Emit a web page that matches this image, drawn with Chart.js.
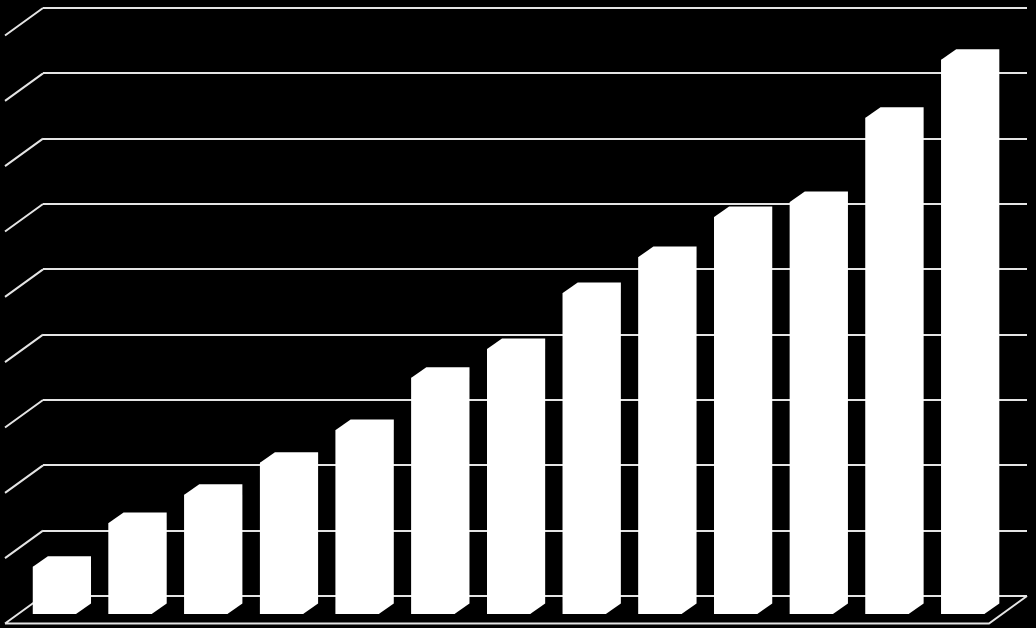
<!DOCTYPE html>
<html>
<head>
<meta charset="utf-8">
<script src="https://cdn.jsdelivr.net/npm/chart.js@4.4.1/dist/chart.umd.min.js"></script>
<style>
  html, body { margin: 0; padding: 0; background: #000; }
  #wrap { width: 1036px; height: 628px; }
</style>
</head>
<body>
<div id="wrap"><canvas id="chart"></canvas></div>
<script>
// Chart data
var categories = ['1', '2', '3', '4', '5', '6', '7', '8', '9', '10', '11', '12', '13'];
var values = [7.4, 14.1, 18.4, 23.3, 28.3, 36.3, 40.7, 49.3, 54.8, 60.9, 63.2, 76.1, 85.0];
var gridTicks = [0, 10, 20, 30, 40, 50, 60, 70, 80, 90];

// Oblique 3D look
var WALL = { dx: -38, dy: 27.5 };   // back wall -> front edge of floor
var FRONT = { dx: -26.4, dy: 19 };  // back wall -> front face of the bars
var BOX = { dx: 15, dy: -10.5 };    // bar depth

var lineColor = '#e4e4e4';

// Floor and side-wall lines
function drawFloor(chart){
  var ctx = chart.ctx;
  var area = chart.chartArea;
  var y = chart.scales.y;
  ctx.save();
  ctx.strokeStyle = lineColor;
  ctx.lineWidth = 2;
  ctx.beginPath();
  gridTicks.forEach(function(t){
    var py = y.getPixelForValue(t);
    ctx.moveTo(area.left, py);
    ctx.lineTo(area.left + WALL.dx, py + WALL.dy);
  });
  var base = y.getPixelForValue(0);
  ctx.moveTo(area.left + WALL.dx, base + WALL.dy);
  ctx.lineTo(area.right + WALL.dx, base + WALL.dy);
  ctx.lineTo(area.right, base);
  ctx.stroke();
  ctx.restore();
}

var box3d = {
  id: 'box3d',
  beforeDatasetsDraw: function(chart){
    drawFloor(chart);
  },
  beforeDatasetDraw: function(chart){
    chart.ctx.save();
    chart.ctx.translate(FRONT.dx, FRONT.dy);
  },
  // whole silhouette of each box, front face included, so no seams show
  afterDatasetDraw: function(chart, args){
    var ctx = chart.ctx;
    ctx.fillStyle = '#ffffff';
    args.meta.data.forEach(function(bar){
      var left = bar.x - bar.width / 2;
      var right = bar.x + bar.width / 2;
      ctx.beginPath();
      ctx.moveTo(left, bar.base);
      ctx.lineTo(left, bar.y);
      ctx.lineTo(left + BOX.dx, bar.y + BOX.dy);
      ctx.lineTo(right + BOX.dx, bar.y + BOX.dy);
      ctx.lineTo(right + BOX.dx, bar.base + BOX.dy);
      ctx.lineTo(right, bar.base);
      ctx.closePath();
      ctx.fill();
    });
    ctx.restore();
  }
};

var chart = new Chart(document.getElementById('chart'), {
  type: 'bar',
  data: {
    labels: categories,
    datasets: [{
      data: values,
      backgroundColor: '#ffffff',
      borderWidth: 0,
      barPercentage: 0.57,
      categoryPercentage: 1,
      clip: false
    }]
  },
  options: {
    responsive: true,
    maintainAspectRatio: false,
    animation: false,
    layout: { padding: { left: 43, right: 9, top: 8, bottom: 32 } },
    plugins: {
      legend: { display: false },
      tooltip: { enabled: false }
    },
    scales: {
      x: { display: false },
      y: {
        min: 0,
        max: 90,
        afterBuildTicks: function(scale){
          scale.ticks = gridTicks.map(function(v){ return { value: v }; });
        },
        ticks: { display: false },
        border: { display: false },
        grid: { color: lineColor, lineWidth: 2, drawTicks: false }
      }
    }
  },
  plugins: [box3d]
});
</script>
</body>
</html>
